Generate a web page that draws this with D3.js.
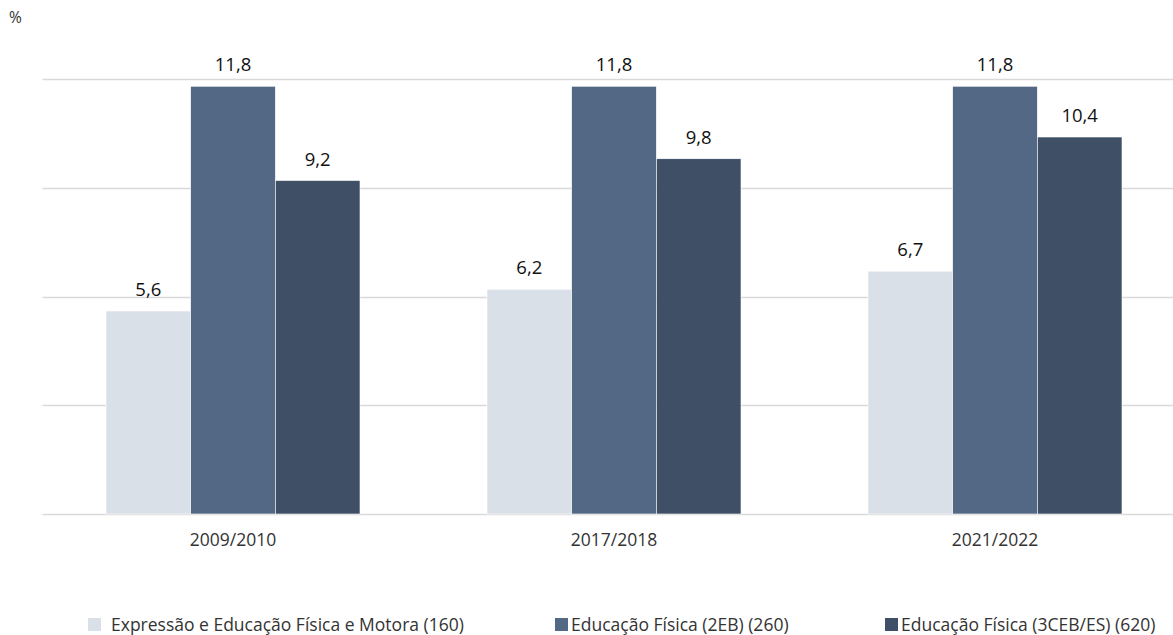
<!DOCTYPE html>
<html>
<head>
<meta charset="utf-8">
<script src="https://cdn.jsdelivr.net/npm/d3@7"></script>
<style>
  body { margin: 0; background: #fff; }
  svg { display: block; font-family: "Open Sans", sans-serif; }
</style>
</head>
<body>
<svg id="chart" width="1173" height="635"></svg>
<script>
const years = ["2009/2010", "2017/2018", "2021/2022"]
const seriesNames = [
  "Expressão e Educação Física e Motora (160)",
  "Educação Física (2EB) (260)",
  "Educação Física (3CEB/ES) (620)"
]
const expressao = [5.6, 6.2, 6.7]
const ef2eb = [11.8, 11.8, 11.8]
const ef3ceb = [9.2, 9.8, 10.4]
const gridTicks = [0, 3, 6, 9, 12]
const colors = ["#dae0e8", "#536885", "#3e4f66"]

const seriesValues = [expressao, ef2eb, ef3ceb]
const data = years.map((y, i) => ({
  year: y,
  values: seriesValues.map((s, k) => ({ key: k, value: s[i] }))
}))

const svg = d3.select("#chart")

const x = d3.scaleBand().domain(years).range([42.5, 1185.5]).paddingInner(0).paddingOuter(0)
const y = d3.scaleLinear().domain([0, 12]).range([514, 79])
const inner = d3.scaleBand().domain([0, 1, 2]).range([0, 254])

// gridlines
svg.append("g")
  .selectAll("line")
  .data(gridTicks)
  .join("line")
  .attr("x1", 42.5).attr("x2", 1173)
  .attr("y1", d => Math.round(y(d)) + 0.5).attr("y2", d => Math.round(y(d)) + 0.5)
  .attr("stroke", "#d9d9d9")
  .attr("stroke-width", 1.3)

// percent label
svg.append("text").attr("x", 9).attr("y", 23)
  .attr("font-size", 15.5).attr("fill", "#333").text("%")

const groups = svg.append("g").selectAll("g")
  .data(data)
  .join("g")
  .attr("transform", d => `translate(${x(d.year) + x.bandwidth() / 2 - 127},0)`)

groups.selectAll("rect")
  .data(d => d.values)
  .join("rect")
  .attr("x", d => inner(d.key))
  .attr("width", inner.bandwidth())
  .attr("y", d => y(d.value))
  .attr("height", d => y(0) - y(d.value))
  .attr("fill", d => colors[d.key])
  .attr("stroke", "#fff")
  .attr("stroke-width", 0.6)

groups.selectAll("text.val")
  .data(d => d.values)
  .join("text")
  .attr("class", "val")
  .attr("x", d => inner(d.key) + inner.bandwidth() / 2)
  .attr("y", d => y(d.value) - 15)
  .attr("text-anchor", "middle")
  .attr("font-size", 18.5)
  .attr("fill", "#111")
  .text(d => d3.format(".1f")(d.value).replace(".", ","))

// x axis labels
svg.append("g")
  .selectAll("text")
  .data(years)
  .join("text")
  .attr("x", d => x(d) + x.bandwidth() / 2)
  .attr("y", 546)
  .attr("text-anchor", "middle")
  .attr("font-size", 17.5)
  .attr("fill", "#333")
  .text(d => d)

// legend
const legendX = [88, 555, 885]
const legend = svg.append("g").selectAll("g")
  .data(seriesNames)
  .join("g")
  .attr("transform", (d, i) => `translate(${legendX[i]},618)`)
legend.append("rect").attr("width", 13).attr("height", 13)
  .attr("fill", (d, i) => colors[i])
legend.append("text")
  .attr("x", (d, i) => i === 0 ? 23 : 16)
  .attr("y", 13)
  .attr("font-size", 17.5)
  .attr("fill", "#333")
  .text(d => d)
</script>
</body>
</html>
